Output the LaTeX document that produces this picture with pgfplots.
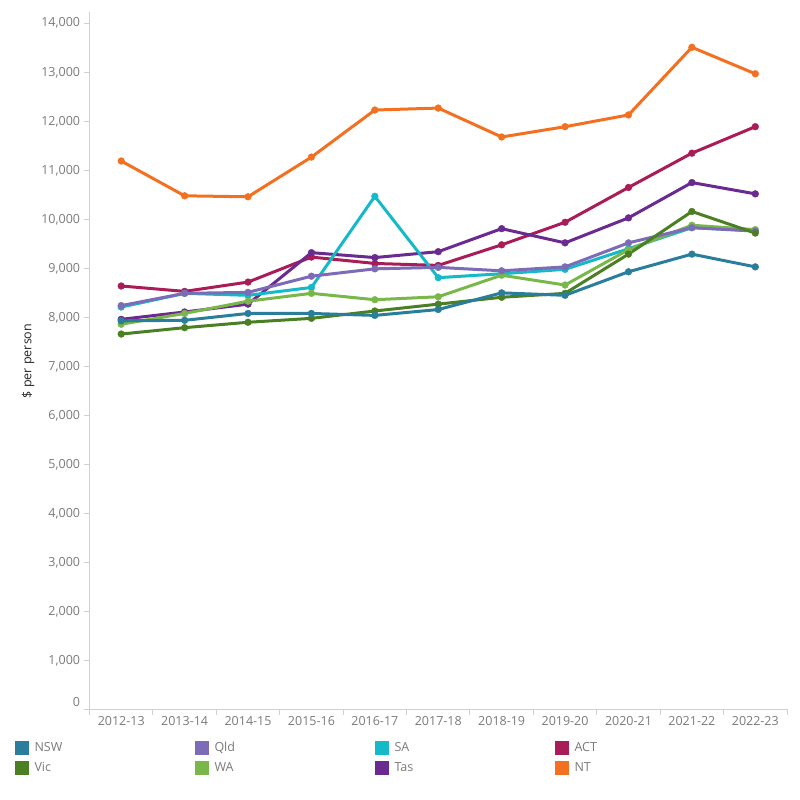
\documentclass[border=0pt]{standalone}
\usepackage{pgfplots}
\pgfplotsset{compat=1.18}
\usepackage{fontspec}
\setmainfont{Open Sans}

\definecolor{nswc}{HTML}{2A7E9C}
\definecolor{vicc}{HTML}{4B7F23}
\definecolor{qldc}{HTML}{7D6BB8}
\definecolor{wac}{HTML}{79B74B}
\definecolor{sac}{HTML}{15B9C8}
\definecolor{tasc}{HTML}{6A2A8F}
\definecolor{actc}{HTML}{AA1C57}
\definecolor{ntc}{HTML}{F37021}
\definecolor{axisgrey}{HTML}{D0D0D0}
\definecolor{labelgrey}{HTML}{7A7A7A}

\pgfplotsset{
  series/.style={color=#1, line width=3pt, mark=*, mark size=3.4pt, mark options={solid, line width=0.4pt}},
}

\begin{document}
\fontsize{12.5pt}{15pt}\selectfont
\begin{tikzpicture}[x=1pt,y=1pt]
\useasboundingbox (0,0) rectangle (800,800);
\begin{axis}[
  at={(89.5pt,90.5pt)}, anchor=south west,
  scale only axis, width=697.5pt, height=697pt,
  xmin=-0.5, xmax=10.5, ymin=0, ymax=14220,
  axis lines*=left,
  axis line style={axisgrey, line width=1pt},
  xtick={0,...,10},
  xticklabels={2012-13,2013-14,2014-15,2015-16,2016-17,2017-18,2018-19,2019-20,2020-21,2021-22,2022-23},
  minor xtick={-0.5,0.5,...,10.5},
  major x tick style={draw=none},
  minor x tick style={axisgrey, line width=1pt},
  minor tick length=5pt,
  ytick={0,1000,...,14000},
  yticklabels={\raisebox{16pt}{0},{1,000},{2,000},{3,000},{4,000},{5,000},{6,000},{7,000},{8,000},{9,000},{10,000},{11,000},{12,000},{13,000},{14,000}},
  y tick style={axisgrey, line width=1pt},
  major tick length=5pt,
  tick align=outside,
  scaled y ticks=false,
  tick label style={font=\fontsize{12.5pt}{15pt}\selectfont, text=labelgrey},
  xticklabel style={yshift=2pt},
  ylabel={\$ per person},
  every axis y label/.style={at={(axis description cs:-0.088,0.5)}, rotate=90, anchor=center, font=\fontsize{12.5pt}{15pt}\selectfont, text=black!85},
  legend columns=4,
  legend image code/.code={\fill[#1, draw=none] (0pt,-7pt) rectangle (14pt,7pt);},
  legend style={at={(axis description cs:-0.1068,-0.0452)}, anchor=north west,
    draw=none, fill=none, inner sep=0pt, outer sep=0pt,
    column sep=0pt, row sep=6pt,
    nodes={inner sep=0pt, outer sep=0pt, text=labelgrey, font=\fontsize{12.5pt}{15pt}\selectfont},
    cells={anchor=west}},
]
% legend keys, laid out row by row
\addlegendimage{nswc}\addlegendentry{\makebox[166pt][l]{\hspace{5.5pt}NSW}}
\addlegendimage{qldc}\addlegendentry{\makebox[166pt][l]{\hspace{5.5pt}Qld}}
\addlegendimage{sac}\addlegendentry{\makebox[166pt][l]{\hspace{5.5pt}SA}}
\addlegendimage{actc}\addlegendentry{\makebox[166pt][l]{\hspace{5.5pt}ACT}}
\addlegendimage{vicc}\addlegendentry{\makebox[166pt][l]{\hspace{5.5pt}Vic}}
\addlegendimage{wac}\addlegendentry{\makebox[166pt][l]{\hspace{5.5pt}WA}}
\addlegendimage{tasc}\addlegendentry{\makebox[166pt][l]{\hspace{5.5pt}Tas}}
\addlegendimage{ntc}\addlegendentry{\makebox[166pt][l]{\hspace{5.5pt}NT}}

% NT
\addplot[series=ntc, forget plot] coordinates {
(0,11190) (1,10480) (2,10460) (3,11270) (4,12230) (5,12270) (6,11680) (7,11890) (8,12130) (9,13510) (10,12970)};
% ACT
\addplot[series=actc, forget plot] coordinates {
(0,8640) (1,8530) (2,8720) (3,9230) (4,9100) (5,9060) (6,9480) (7,9940) (8,10650) (9,11350) (10,11890)};
% Tas
\addplot[series=tasc, forget plot] coordinates {
(0,7960) (1,8110) (2,8270) (3,9320) (4,9220) (5,9340) (6,9810) (7,9520) (8,10030) (9,10750) (10,10520)};
% SA
\addplot[series=sac, forget plot] coordinates {
(0,8210) (1,8490) (2,8450) (3,8610) (4,10470) (5,8810) (6,8890) (7,8980) (8,9400) (9,9830) (10,9770)};
% WA
\addplot[series=wac, forget plot] coordinates {
(0,7860) (1,8080) (2,8330) (3,8490) (4,8360) (5,8420) (6,8860) (7,8660) (8,9380) (9,9880) (10,9790)};
% Qld
\addplot[series=qldc, forget plot] coordinates {
(0,8240) (1,8490) (2,8510) (3,8840) (4,8990) (5,9020) (6,8950) (7,9030) (8,9520) (9,9830) (10,9760)};
% Vic
\addplot[series=vicc, forget plot] coordinates {
(0,7660) (1,7790) (2,7900) (3,7980) (4,8130) (5,8270) (6,8410) (7,8490) (8,9290) (9,10160) (10,9720)};
% NSW
\addplot[series=nswc, forget plot] coordinates {
(0,7930) (1,7940) (2,8080) (3,8080) (4,8040) (5,8160) (6,8500) (7,8450) (8,8930) (9,9290) (10,9030)};
\end{axis}
\end{tikzpicture}
\end{document}
